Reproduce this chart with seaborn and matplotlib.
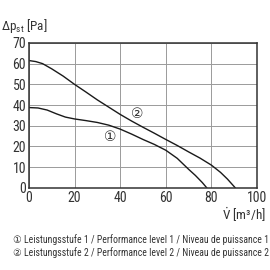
import seaborn as sns
import matplotlib.pyplot as plt
import pandas as pd
from matplotlib import font_manager

# level 1 curve
flow_1 = [0, 4, 8, 12, 16, 20, 25, 30, 35, 40, 45, 50, 55, 60, 65, 70, 73, 76, 78]
press_1 = [38.8, 38.6, 37.6, 35.8, 34.2, 33.3, 32.5, 31.6, 30.3, 28.4, 26.0, 23.4, 21.0, 18.2, 14.3, 9.0, 6.0, 2.6, 0]

# level 2 curve
flow_2 = [0, 3, 6, 10, 15, 20, 25, 30, 35, 40, 45, 50, 55, 60, 65, 70, 75, 80, 84, 87, 90.5]
press_2 = [61.5, 61.0, 60.0, 57.5, 54.0, 50.0, 46.3, 42.5, 39.0, 35.5, 32.3, 29.3, 26.4, 23.4, 20.5, 17.4, 14.4, 11.0, 7.5, 4.3, 0]

x_ticks = [0, 20, 40, 60, 80, 100]
y_ticks = [0, 10, 20, 30, 40, 50, 60, 70]
legend_lines = [
    "\u2460 Leistungsstufe 1 / Performance level 1 / Niveau de puissance 1",
    "\u2461 Leistungsstufe 2 / Performance level 2 / Niveau de puissance 2",
]

names = {f.name for f in font_manager.fontManager.ttflist}
narrow = "Liberation Sans"
legend_size = 6.0
for cand in ["Liberation Sans Narrow", "DejaVu Sans Condensed", "Roboto Condensed"]:
    if cand in names:
        narrow = cand
        legend_size = 7.0
        break

sns.set_style("white")
plt.rcParams['font.family'] = [narrow, 'DejaVu Sans']
plt.rcParams['mathtext.fontset'] = 'custom'
plt.rcParams['mathtext.rm'] = narrow
plt.rcParams['mathtext.it'] = narrow

df = pd.concat([
    pd.DataFrame({"flow": flow_1, "press": press_1, "level": "1"}),
    pd.DataFrame({"flow": flow_2, "press": press_2, "level": "2"}),
])

fig = plt.figure(figsize=(2.7, 2.7), dpi=100)
ax = fig.add_axes([0.107, 0.304, 0.845, 0.537])
sns.lineplot(data=df, x="flow", y="press", units="level", estimator=None,
             color="#1a1a1a", linewidth=1.0, sort=False, ax=ax)

ax.set_xlim(0, 100)
ax.set_ylim(0, 70)
ax.set_xticks(x_ticks)
ax.set_yticks(y_ticks)
ax.grid(True, color="#9a9a9a", linewidth=0.7)
ax.tick_params(length=0, labelsize=10, colors="#333333", pad=2)
for s in ax.spines.values():
    s.set_color("#333333")
    s.set_linewidth(1.1)
ax.set_xlabel("")
ax.set_ylabel("")

ax.text(35.5, 24.5, "\u2460", fontsize=10, ha="center", va="center", color="#333333",
        family=['DejaVu Sans'])
ax.text(47.5, 35.5, "\u2461", fontsize=10, ha="center", va="center", color="#333333",
        family=['DejaVu Sans'])

fig.text(0.005, 0.905, "\u0394p$_\\mathrm{st}$ [Pa]", fontsize=9.5, color="#333333", va="center")
fig.text(0.985, 0.203, "$\\dot{\\mathrm{V}}$ [m\u00b3/h]", fontsize=9.5, color="#333333",
         va="center", ha="right")
fig.text(0.048, 0.112, legend_lines[0], fontsize=legend_size, color="#333333", va="center")
fig.text(0.048, 0.064, legend_lines[1], fontsize=legend_size, color="#333333", va="center")

fig.savefig("out.png", dpi=100, facecolor="white")
